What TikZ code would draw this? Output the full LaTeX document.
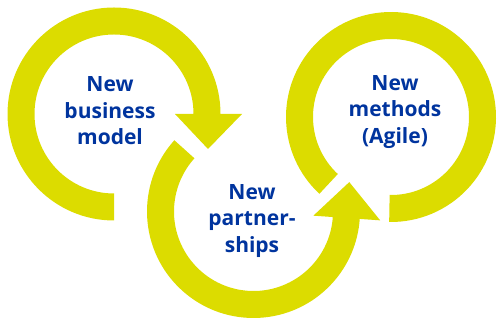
\documentclass[tikz,border=0pt]{standalone}
\usepackage{fontspec}
\setmainfont{Open Sans}
\usetikzlibrary{calc}
\definecolor{ringyellow}{RGB}{220,220,0}
\definecolor{textblue}{RGB}{0,52,158}
\begin{document}
\begin{tikzpicture}[x=1pt,y=1pt,
  ring/.style={fill=ringyellow},
  label/.style={text=textblue,font=\bfseries\fontsize{21}{26.5}\selectfont,align=center,inner sep=0pt,anchor=center}]
\useasboundingbox (0,0) rectangle (497,320);
\coordinate (c1) at (114,206);
\coordinate (c2) at (253.5,108.5);
\coordinate (c3) at (391,203);
% ring 1: clockwise from bottom to right, arrow pointing down
\fill[ring] ($(c1)+(270:106.5)$) arc[start angle=270,end angle=0,radius=106.5]
  -- ($(c1)+(0:128)$) -- ($(c1)+(0:94)+(-90:35)$) -- ($(c1)+(0:61)$)
  -- ($(c1)+(0:79.5)$) arc[start angle=0,end angle=270,radius=79.5] -- cycle;
% ring 2: counterclockwise from upper left to right, arrow pointing up
\fill[ring] ($(c2)+(138:106.5)$) arc[start angle=138,end angle=356,radius=106.5]
  -- ($(c2)+(356:127)$) -- ($(c2)+(356:93.5)+(86:36)$) -- ($(c2)+(356:60)$)
  -- ($(c2)+(356:79.5)$) arc[start angle=356,end angle=138,radius=79.5] -- cycle;
% ring 3: clockwise from lower left to bottom
\fill[ring] ($(c3)+(227:105)$) arc[start angle=227,end angle=-91,radius=105]
  -- ($(c3)+(-91:78)$) arc[start angle=-91,end angle=227,radius=78] -- cycle;
\node[label] (t1) at (110,209) {New\\business\\model};
\node[label] (t2) at (252,99) {New\\partner-\\ships};
\node[label] (t3) at (395,208) {New\\methods\\(Agile)};
\end{tikzpicture}
\end{document}
